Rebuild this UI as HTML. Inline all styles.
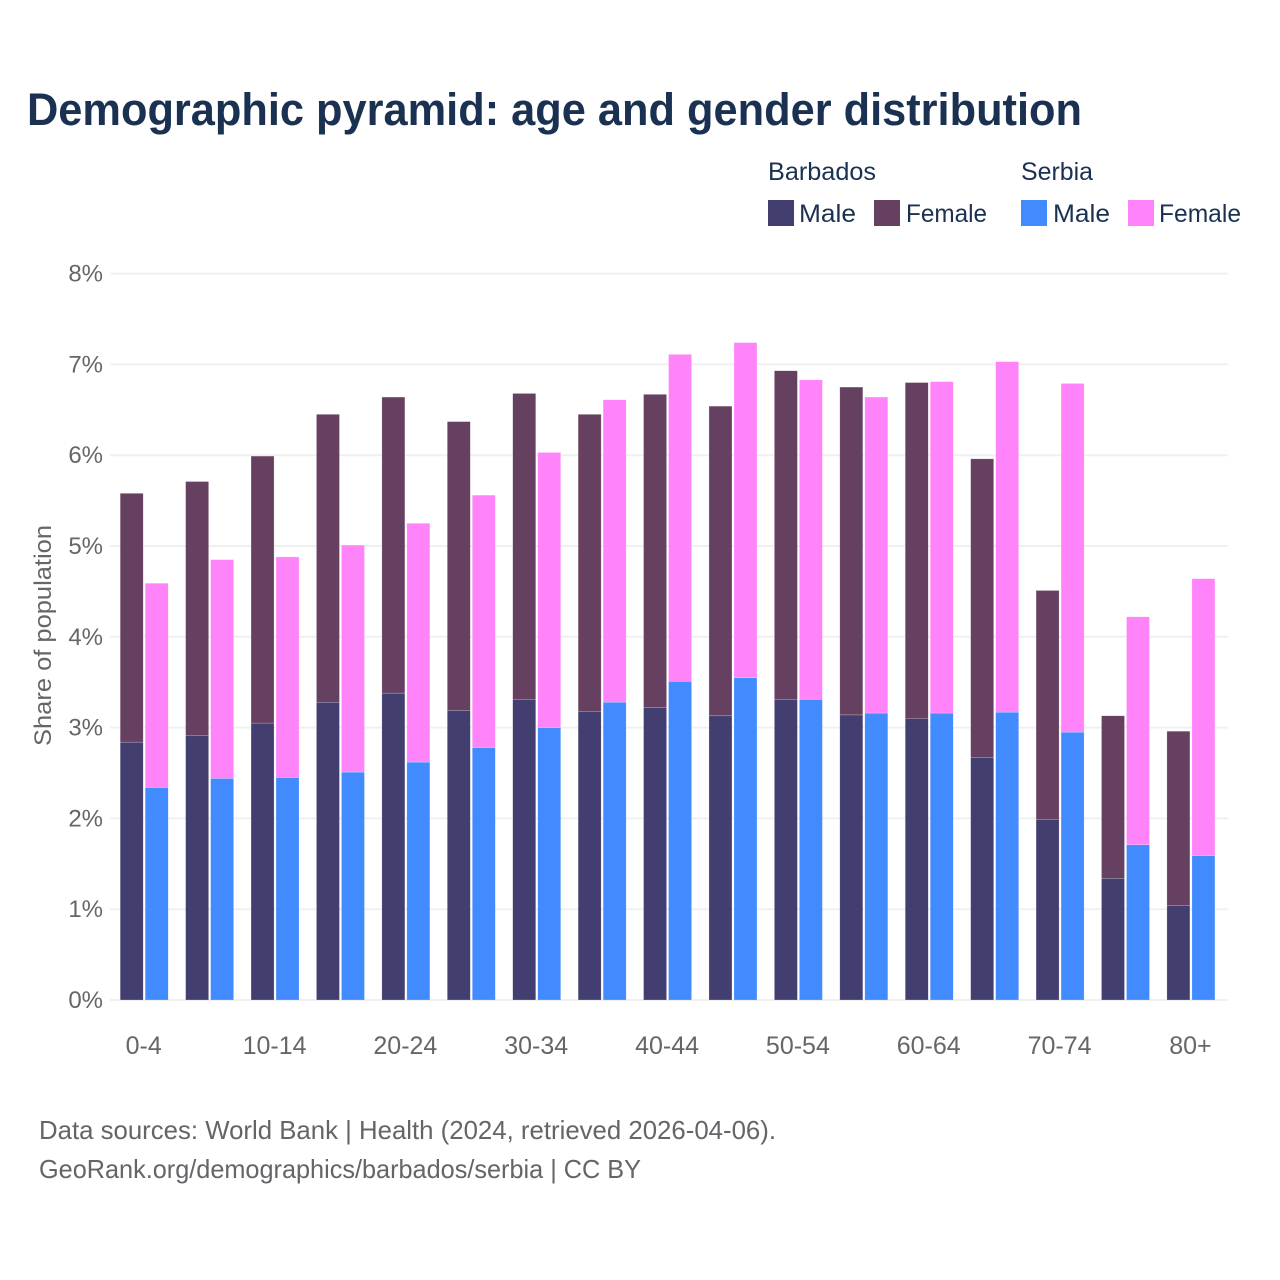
<!DOCTYPE html>
<html lang="en">
<head>
<meta charset="utf-8">
<title>Demographic pyramid</title>
<style>
html,body{margin:0;padding:0;background:#fff;width:1280px;height:1280px;overflow:hidden}
svg{display:block}
text{font-family:"Liberation Sans",sans-serif}
</style>
</head>
<body>
<svg id="chart" width="1280" height="1280" viewBox="0 0 1280 1280" xmlns="http://www.w3.org/2000/svg">
  <rect x="0" y="0" width="1280" height="1280" fill="#ffffff"/>
  <text x="27" y="125" font-size="45" font-weight="700" fill="#1a3151" textLength="1055" lengthAdjust="spacingAndGlyphs">Demographic pyramid: age and gender distribution</text>

  <g font-size="25" fill="#1a3151">
    <text x="768" y="180" textLength="108" lengthAdjust="spacingAndGlyphs">Barbados</text>
    <text x="1021" y="180" textLength="72" lengthAdjust="spacingAndGlyphs">Serbia</text>
    <rect x="768" y="200" width="26" height="26" fill="#433e70"/>
    <text x="799" y="222" textLength="57" lengthAdjust="spacingAndGlyphs">Male</text>
    <rect x="874" y="200" width="26" height="26" fill="#664061"/>
    <text x="906" y="222" textLength="81" lengthAdjust="spacingAndGlyphs">Female</text>
    <rect x="1021" y="200" width="26" height="26" fill="#418bff"/>
    <text x="1053" y="222" textLength="57" lengthAdjust="spacingAndGlyphs">Male</text>
    <rect x="1128" y="200" width="26" height="26" fill="#ff84fa"/>
    <text x="1159" y="222" textLength="82" lengthAdjust="spacingAndGlyphs">Female</text>
  </g>

  <g id="grid"></g>
  <g id="bars"></g>
  <g id="yticks"></g>
  <g id="xticks"></g>

  <text transform="translate(51,746) rotate(-90)" x="0" y="0" font-size="24" fill="#666666" textLength="221" lengthAdjust="spacingAndGlyphs">Share of population</text>

  <text x="39" y="1139" font-size="26" fill="#666468" textLength="737" lengthAdjust="spacingAndGlyphs">Data sources: World Bank | Health (2024, retrieved 2026-04-06).</text>
  <text x="39" y="1178" font-size="26" fill="#666468" textLength="602" lengthAdjust="spacingAndGlyphs">GeoRank.org/demographics/barbados/serbia | CC BY</text>
</svg>
<script>
const ageGroups = ["0-4","5-9","10-14","15-19","20-24","25-29","30-34","35-39","40-44","45-49","50-54","55-59","60-64","65-69","70-74","75-79","80+"];
const shownAgeGroups = ["0-4","10-14","20-24","30-34","40-44","50-54","60-64","70-74","80+"];
const yTicks = [0,1,2,3,4,5,6,7,8];
const barbadosMale = [2.84,2.91,3.05,3.28,3.38,3.19,3.31,3.18,3.22,3.13,3.31,3.14,3.10,2.67,1.99,1.34,1.04];
const barbadosFemale = [2.74,2.80,2.94,3.17,3.26,3.18,3.37,3.27,3.45,3.41,3.62,3.61,3.70,3.29,2.52,1.79,1.92];
const serbiaMale = [2.34,2.44,2.45,2.51,2.62,2.78,3.00,3.28,3.51,3.55,3.31,3.16,3.16,3.17,2.95,1.71,1.59];
const serbiaFemale = [2.25,2.41,2.43,2.50,2.63,2.78,3.03,3.33,3.60,3.69,3.52,3.48,3.65,3.86,3.84,2.51,3.05];

const SVG_NS = "http://www.w3.org/2000/svg";
const plotLeft = 110, plotRight = 1228, y0 = 1000, yTop = 273.6;
const bandStart = 144.2, bandStep = 65.42, barWidth = 23, barGap = 2;

function xScale(i) { return bandStart + bandStep * i; }
function yScale(v) { return y0 - (y0 - yTop) * v / 8; }

function make(tag, attrs, parent) {
  const el = document.createElementNS(SVG_NS, tag);
  for (const k in attrs) el.setAttribute(k, attrs[k]);
  parent.appendChild(el);
  return el;
}

const gridG = document.getElementById("grid");
const yG = document.getElementById("yticks");
yTicks.forEach(function (t) {
  const line = make("line", {x1: plotLeft, x2: plotRight, y1: yScale(t), y2: yScale(t), stroke: "#f0f0f0", "stroke-width": 2}, gridG);
  
  
  const label = make("text", {x: 103, y: yScale(t) + 8, "text-anchor": "end", "font-size": 24, fill: "#666666"}, yG);
  
  
  label.textContent = t + "%";
});

const xG = document.getElementById("xticks");
ageGroups.forEach(function (g, i) {
  if (shownAgeGroups.indexOf(g) < 0) return;
  const label = make("text", {x: xScale(i) - 0.5, y: 1054, "text-anchor": "middle", "font-size": 25, fill: "#666666"}, xG);
  
  
  label.textContent = g;
});

const barsG = document.getElementById("bars");
function stackSegment(i, side, base, value, color) {
  const left = side === 0 ? xScale(i) - barGap / 2 - barWidth : xScale(i) + barGap / 2;
  const top = yScale(base + value);
  const bar = make("rect", {x: left, y: top, width: barWidth, height: yScale(base) - top, fill: color, stroke: "#ffffff", "stroke-opacity": 0.4, "stroke-width": 0.5}, barsG);
  
  
}
ageGroups.forEach(function (g, i) {
  stackSegment(i, 0, 0, barbadosMale[i], "#433e70");
  stackSegment(i, 0, barbadosMale[i], barbadosFemale[i], "#664061");
  stackSegment(i, 1, 0, serbiaMale[i], "#418bff");
  stackSegment(i, 1, serbiaMale[i], serbiaFemale[i], "#ff84fa");
});
</script>
</body>
</html>
